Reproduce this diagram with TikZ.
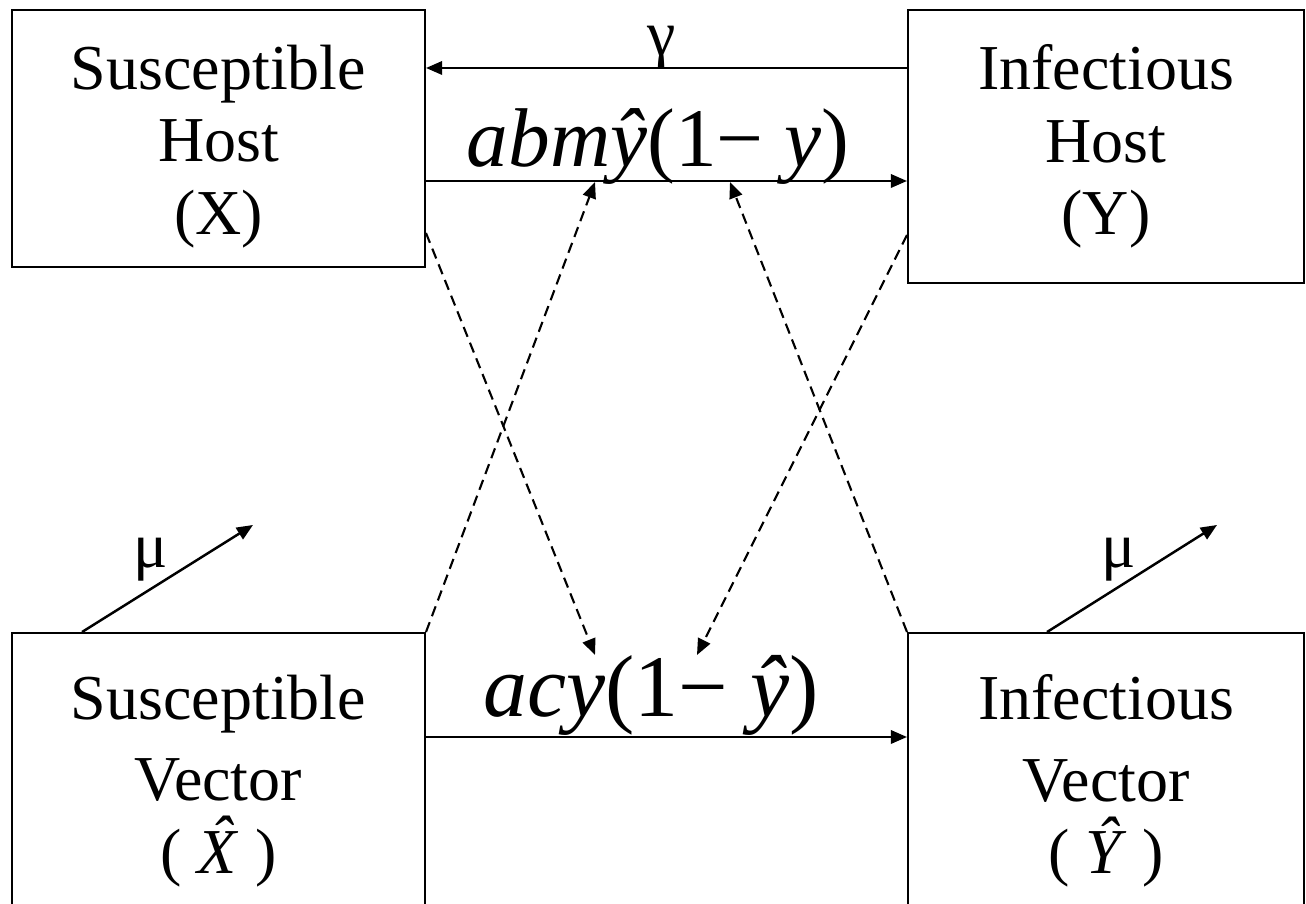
\documentclass[tikz,border=0pt]{standalone}
\usepackage{fontspec}
\setmainfont{Liberation Serif}
\usetikzlibrary{arrows.meta}

\begin{document}
\begin{tikzpicture}[
  x=0.01cm, y=-0.01cm,
  font=\fontsize{18.2}{20.6}\selectfont,
  >={Triangle[length=4.6pt,width=3.8pt]},
  box/.style={draw, line width=0.5pt, align=center, inner sep=0pt},
  flow/.style={->, line width=0.7pt},
  infl/.style={->, line width=0.6pt, dash pattern=on 3pt off 1.8pt},
  rate/.style={anchor=base, inner sep=0pt},
  greek/.style={anchor=base, inner sep=0pt},
]
\useasboundingbox (0,0) rectangle (1306,904);
% host boxes
\node[box, minimum width=4.13cm, minimum height=2.57cm] (sh) at (218.5,138.5) {\rule{0pt}{17pt}Susceptible\\Host\\(X)};
\node[box, minimum width=3.96cm, minimum height=2.73cm] (ih) at (1106,146.5) {Infectious\\Host\\(Y)};
% vector boxes (run off the bottom)
\node[box, minimum width=4.13cm, minimum height=2.96cm] (sv) at (218.5,781) {Susceptible\\[2.5pt]Vector\\( \textit{\accent"02C6 X} )};
\node[box, minimum width=3.96cm, minimum height=2.96cm] (iv) at (1106,781) {Infectious\\[2.5pt]Vector\\( \textit{\accent"02C6 Y} )};
% rates
\node[rate, font=\fontsize{23.7}{27}\selectfont] (hrate) at (658,167) {\textit{abm\^{y}}(1−\hspace{0.25em}\textit{y})};
\node[rate, font=\fontsize{25}{28}\selectfont] (vrate) at (651,717) {\textit{acy}(1−\hspace{0.25em}\textit{\^{y}})};
\node[greek] (gam) at (662,56) {γ};
\node[greek] (mus) at (151,568) {μ};
\node[greek] (mui) at (1119,568) {μ};
% free ends
\coordinate (t1) at (595,182);
\coordinate (t2) at (730,182);
\coordinate (b1) at (595,655);
\coordinate (b2) at (697,655);
\coordinate (ds) at (253,525);
\coordinate (di) at (1217,525);
% flows
\draw[flow] (ih.west |- 0,68) -- (sh.east |- 0,68);
\draw[flow] (sh.east |- 0,181) -- (ih.west |- 0,181);
\draw[flow] (sv.east |- 0,737) -- (iv.west |- 0,737);
\draw[flow] (sv.north -| 82,0) -- (ds);
\draw[flow] (iv.north -| 1047,0) -- (di);
% dashed influences
\draw[infl] (sv.north east) -- (t1);
\draw[infl] (iv.north west) -- (t2);
\draw[infl] (sh.east |- 0,233) -- (b1);
\draw[infl] (ih.west |- 0,235) -- (b2);
\end{tikzpicture}
\end{document}
